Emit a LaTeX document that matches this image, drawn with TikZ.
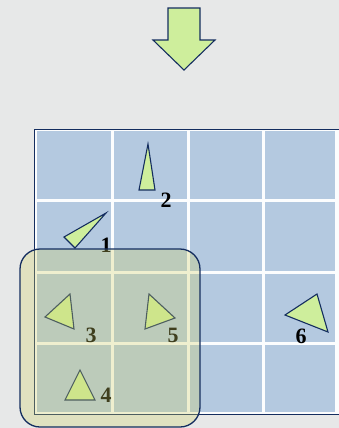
\documentclass[tikz,border=0pt]{standalone}
\usepackage{fontspec}
\setmainfont{Liberation Serif}
\definecolor{bg}{RGB}{231,232,232}
\definecolor{cellblue}{RGB}{180,201,224}
\definecolor{navy}{RGB}{20,45,95}
\definecolor{tri}{RGB}{206,238,156}
\definecolor{hl}{RGB}{209,209,100}
\tikzset{
  cell/.style={fill=cellblue, draw=none},
  greenshape/.style={draw=navy, line width=1.1pt, fill=tri, line join=miter},
  lbl/.style={font=\fontsize{22}{22}\selectfont\bfseries, text=black, inner sep=0pt},
}
\begin{document}
\begin{tikzpicture}[x=1bp,y=-1bp]
\useasboundingbox (0,0) rectangle (339,428);
\fill[bg] (0,0) rectangle (339,428);
% grid frame
\fill[white!96!cellblue] (34,129) rectangle (345,414);
\draw[navy, line width=0.9pt] (345,129) -- (34,129) -- (34,414) -- (345,414);
% cells
\foreach \xa/\xb in {36.5/111,114/187,190/262,265/335}{
  \foreach \ya/\yb in {131/199,202/271,274/342,345/411.5}{
    \fill[cell] (\xa,\ya) rectangle (\xb,\yb);
  }
}
% arrow
\draw[greenshape] (168,8) -- (200,8) -- (200,40) -- (215,40) -- (184,70) -- (153,40) -- (168,40) -- cycle;
% triangles
\draw[greenshape] (64,237) -- (106,213) -- (75,248) -- cycle;
\draw[greenshape] (148,144) -- (155,190) -- (139,190) -- cycle;
\draw[greenshape] (45,317) -- (70,294) -- (74,329) -- cycle;
\draw[greenshape] (149,294) -- (175,318) -- (145,329) -- cycle;
\draw[greenshape] (285,315) -- (317,294) -- (328,332) -- cycle;
\draw[greenshape] (80,370) -- (95,400) -- (65,400) -- cycle;
% labels
\node[lbl] (l1) at (106,245) {1};
\node[lbl] (l2) at (166,200) {2};
\node[lbl] (l3) at (91,335) {3};
\node[lbl] (l4) at (106,395) {4};
\node[lbl] (l5) at (173,335) {5};
\node[lbl] (l6) at (301,336) {6};
% highlight rounded rectangle
\fill[hl, fill opacity=0.3, rounded corners=20bp] (20,249) rectangle (200,427);
\draw[navy, line width=1.3pt, rounded corners=20bp] (20,249) rectangle (200,427);
\end{tikzpicture}
\end{document}
